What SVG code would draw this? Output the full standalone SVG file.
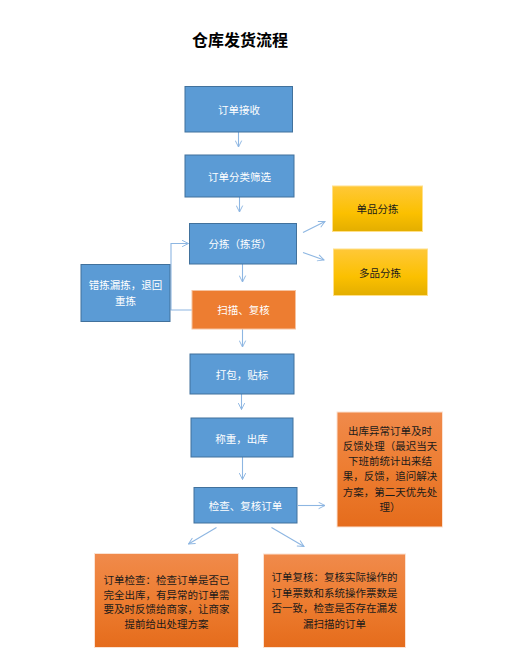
<svg xmlns="http://www.w3.org/2000/svg" width="512" height="666" viewBox="0 0 512 666">
<defs>
<linearGradient id="gold" x1="0" y1="0" x2="0" y2="1">
<stop offset="0" stop-color="#FFC838"/>
<stop offset="0.6" stop-color="#FBC000"/>
<stop offset="1" stop-color="#E3AE00"/>
</linearGradient>
<linearGradient id="org" x1="0" y1="0" x2="0" y2="1">
<stop offset="0" stop-color="#F08A4B"/>
<stop offset="0.5" stop-color="#ED7D31"/>
<stop offset="1" stop-color="#E56C1C"/>
</linearGradient>
<marker id="ah" viewBox="0 0 10 10" refX="9" refY="5" markerWidth="8" markerHeight="8" markerUnits="userSpaceOnUse" orient="auto">
<path d="M1,1 L9,5 L1,9" fill="none" stroke="#8DB6E2" stroke-width="1.2"/>
</marker>
<style>
.blue{fill:#5B9BD5;stroke:#41719C;stroke-width:1}
.gold{fill:url(#gold);stroke:#FFE08A;stroke-width:1}
.orange{fill:#ED7D31;stroke:#F6C3A0;stroke-width:1}
.big{fill:url(#org);stroke:#FBE2D2;stroke-width:1}
text{font-family:"Noto Sans CJK SC","Noto Sans",sans-serif;font-size:10.5px;text-anchor:middle}
.w{fill:#FFFFFF}
.d{fill:#1A1A1A}
.title{font-size:16px;font-weight:bold;fill:#000}
.c{fill:none;stroke:#8DB6E2;stroke-width:1.1}
</style>
</defs>
<rect width="512" height="666" fill="#FFFFFF"/>
<text class="title" x="240" y="46">仓库发货流程</text>

<g id="connectors">
<line class="c" x1="238.5" y1="132" x2="238.5" y2="147" marker-end="url(#ah)"/>
<line class="c" x1="239.5" y1="197" x2="239.5" y2="212" marker-end="url(#ah)"/>
<line class="c" x1="242.5" y1="264" x2="242.5" y2="282" marker-end="url(#ah)"/>
<line class="c" x1="303" y1="232.5" x2="325" y2="221.5" marker-end="url(#ah)"/>
<line class="c" x1="303" y1="252.5" x2="324" y2="260" marker-end="url(#ah)"/>
<polyline class="c" points="192,310 171,310 171,243.5 188.5,243.5" marker-end="url(#ah)"/>
<line class="c" x1="242.5" y1="329" x2="242.5" y2="347" marker-end="url(#ah)"/>
<line class="c" x1="241.5" y1="394" x2="241.5" y2="409.5" marker-end="url(#ah)"/>
<line class="c" x1="242.5" y1="457" x2="242.5" y2="479.5" marker-end="url(#ah)"/>
<line class="c" x1="298" y1="505.5" x2="325" y2="505.5" marker-end="url(#ah)"/>
<line class="c" x1="216.5" y1="527.5" x2="188.5" y2="544" marker-end="url(#ah)"/>
<line class="c" x1="271.5" y1="527.5" x2="304" y2="546.5" marker-end="url(#ah)"/>
</g>

<g id="n1"><rect class="blue" x="185" y="86.5" width="107.5" height="45.5"/><text class="w" x="239" y="113.5">订单接收</text></g>
<g id="n2"><rect class="blue" x="185" y="155" width="109" height="42"/><text class="w" x="239.5" y="181">订单分类筛选</text></g>
<g id="n3"><rect class="blue" x="189.5" y="223.5" width="107" height="40.5"/><text class="w" x="240" y="248">分拣（拣货）</text></g>
<g id="n4"><rect class="gold" x="332.5" y="186" width="90" height="45.5"/><text class="d" x="377.5" y="212.5">单品分拣</text></g>
<g id="n5"><rect class="gold" x="333.5" y="249" width="94" height="46.5"/><text class="d" x="380" y="276.5">多品分拣</text></g>
<g id="n6"><rect class="blue" x="81" y="264.5" width="89" height="57"/><text class="w" x="125.5" y="289">错拣漏拣，退回</text><text class="w" x="125.5" y="305">重拣</text></g>
<g id="n7"><rect class="orange" x="192" y="290.5" width="103.5" height="38.5"/><text class="w" x="243.5" y="314">扫描、复核</text></g>
<g id="n8"><rect class="blue" x="190" y="354" width="104" height="40"/><text class="w" x="242" y="378.5">打包，贴标</text></g>
<g id="n9"><rect class="blue" x="191" y="418" width="102" height="39"/><text class="w" x="241.5" y="442.5">称重，出库</text></g>
<g id="n10"><rect class="blue" x="194" y="487.5" width="103" height="35.5"/><text class="w" x="245.5" y="509.5">检查、复核订单</text></g>
<g id="n11"><rect class="big" x="337" y="412" width="105.5" height="115"/>
<text class="d" x="390" y="434.5">出库异常订单及时</text>
<text class="d" x="390" y="449.8">反馈处理（最迟当天</text>
<text class="d" x="390" y="465.1">下班前统计出来结</text>
<text class="d" x="390" y="480.4">果，反馈，追问解决</text>
<text class="d" x="390" y="495.7">方案，第二天优先处</text>
<text class="d" x="390" y="511">理）</text>
</g>
<g id="n12"><rect class="big" x="94.5" y="553.5" width="144" height="94"/>
<text class="d" x="166.5" y="584">订单检查：检查订单是否已</text>
<text class="d" x="166.5" y="598.7">完全出库，有异常的订单需</text>
<text class="d" x="166.5" y="613.4">要及时反馈给商家，让商家</text>
<text class="d" x="166.5" y="628.1">提前给出处理方案</text>
</g>
<g id="n13"><rect class="big" x="263.5" y="554" width="142" height="93.5"/>
<text class="d" x="334.5" y="581">订单复核：复核实际操作的</text>
<text class="d" x="334.5" y="596.5">订单票数和系统操作票数是</text>
<text class="d" x="334.5" y="612">否一致，检查是否存在漏发</text>
<text class="d" x="334.5" y="627.5">漏扫描的订单</text>
</g>
</svg>
